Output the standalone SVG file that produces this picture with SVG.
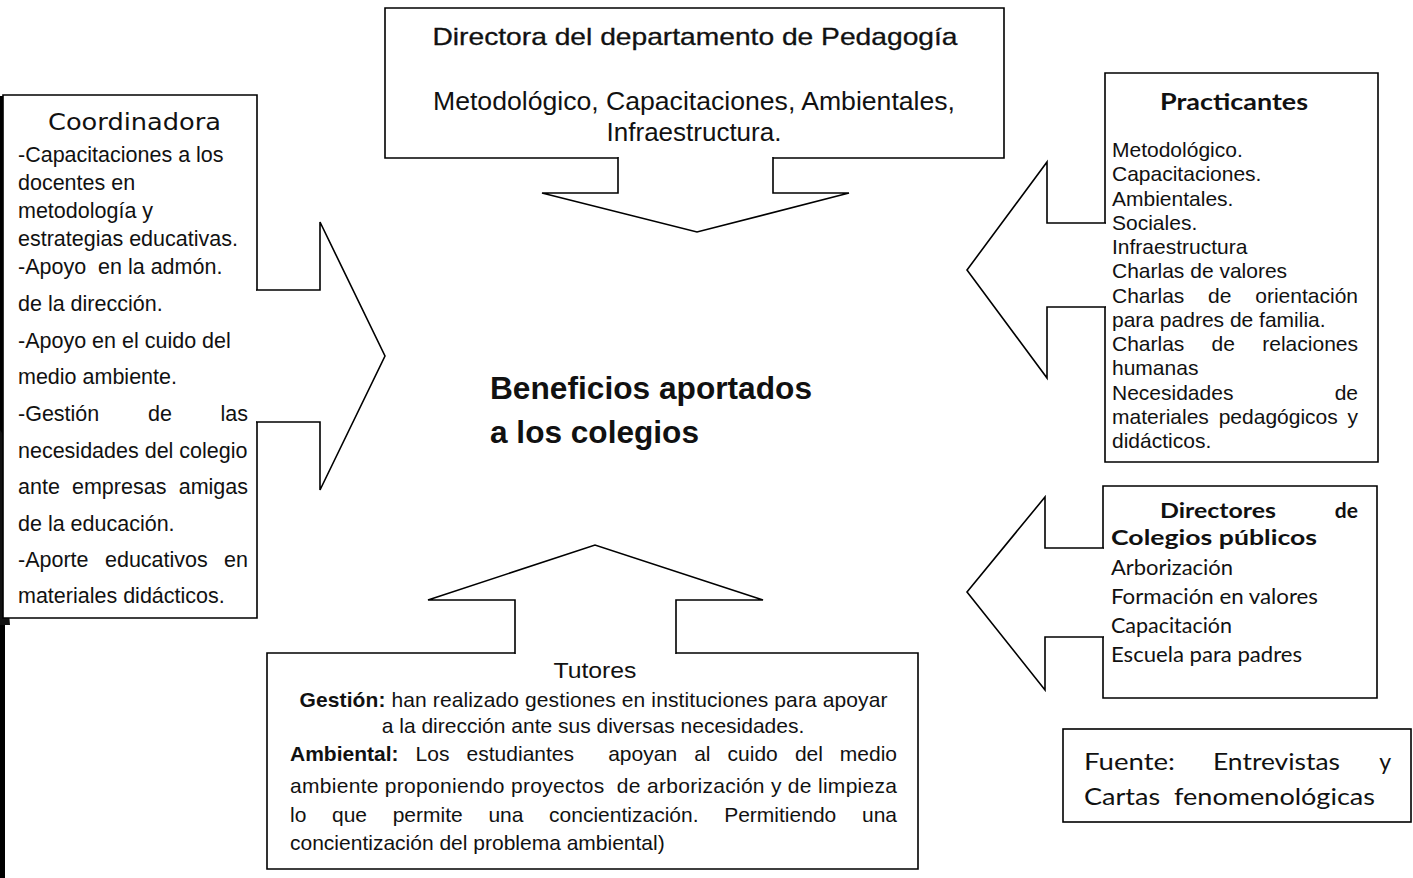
<svg xmlns="http://www.w3.org/2000/svg" width="1413" height="878" viewBox="0 0 1413 878">
<style>
.shape{fill:#fff;stroke:#000;stroke-width:1.6;stroke-linejoin:miter;stroke-linecap:square}
.ar{font-family:"Liberation Sans",Arial,sans-serif;fill:#111}
.dv{font-family:"DejaVu Sans",Verdana,sans-serif;fill:#111}
.cb{font-family:Lato,"Open Sans",sans-serif;fill:#111}
.b{font-weight:bold}
</style>
<rect width="1413" height="878" fill="#fff"/>
<g id="scan-edge">
<rect x="0" y="96" width="5" height="782" fill="#000"/>
<polygon points="0,430 7,440 9,520 8,600 10,625 0,625" fill="#111"/>
</g>
<g id="node-directora">
<path class="shape" d="M618,158 H385 V8 H1004 V158 H773"/>
<text class="ar" x="695" y="45" font-size="24" text-anchor="middle" textLength="525" lengthAdjust="spacingAndGlyphs" stroke="#111" stroke-width="0.3">Directora del departamento de Pedagogía</text>
<text class="ar" x="694" y="110" font-size="26" text-anchor="middle" textLength="522" lengthAdjust="spacingAndGlyphs">Metodológico, Capacitaciones, Ambientales,</text>
<text class="ar" x="694" y="141" font-size="26" text-anchor="middle">Infraestructura.</text>
</g>
<g id="node-coordinadora">
<path class="shape" d="M257,290 V95 H3 V618 H257 V422"/>
<text class="dv" x="134.5" y="130" font-size="23" text-anchor="middle" textLength="173" lengthAdjust="spacingAndGlyphs">Coordinadora</text>
<g class="ar" font-size="21.5">
<text x="18" y="162">-Capacitaciones a los</text>
<text x="18" y="190">docentes en</text>
<text x="18" y="218">metodología y</text>
<text x="18" y="246">estrategias educativas.</text>
<text x="18" y="274" xml:space="preserve">-Apoyo  en la admón.</text>
<text x="18" y="311">de la dirección.</text>
<text x="18" y="348">-Apoyo en el cuido del</text>
<text x="18" y="384">medio ambiente.</text>
<text y="421"><tspan x="18">-Gestión</tspan><tspan x="148">de</tspan><tspan x="248" text-anchor="end">las</tspan></text>
<text x="18" y="458">necesidades del colegio</text>
<text y="494"><tspan x="18">ante</tspan><tspan x="72">empresas</tspan><tspan x="248" text-anchor="end">amigas</tspan></text>
<text x="18" y="531">de la educación.</text>
<text y="567"><tspan x="18">-Aporte</tspan><tspan x="105">educativos</tspan><tspan x="248" text-anchor="end">en</tspan></text>
<text x="18" y="603">materiales didácticos.</text>
</g>
</g>
<g id="node-practicantes">
<path class="shape" d="M1105,223 V73 H1378 V462 H1105 V307"/>
<text class="cb b" x="1234" y="110" font-size="22" text-anchor="middle" textLength="148" lengthAdjust="spacingAndGlyphs">Practicantes</text>
<g class="ar" font-size="21">
<text x="1112" y="157">Metodológico.</text>
<text x="1112" y="181.25">Capacitaciones.</text>
<text x="1112" y="205.5">Ambientales.</text>
<text x="1112" y="229.75">Sociales.</text>
<text x="1112" y="254">Infraestructura</text>
<text x="1112" y="278.25">Charlas de valores</text>
<text y="302.5"><tspan x="1112">Charlas</tspan><tspan x="1208">de</tspan><tspan x="1358" text-anchor="end">orientación</tspan></text>
<text x="1112" y="326.75">para padres de familia.</text>
<text y="351"><tspan x="1112">Charlas</tspan><tspan x="1211.6">de</tspan><tspan x="1358" text-anchor="end">relaciones</tspan></text>
<text x="1112" y="375.25">humanas</text>
<text y="399.5"><tspan x="1112">Necesidades</tspan><tspan x="1358" text-anchor="end">de</tspan></text>
<text y="423.75"><tspan x="1112">materiales</tspan><tspan x="1218.7">pedagógicos</tspan><tspan x="1358" text-anchor="end">y</tspan></text>
<text x="1112" y="448">didácticos.</text>
</g>
</g>
<g id="node-directores">
<path class="shape" d="M1103,548 V486 H1377 V698 H1103 V637"/>
<g class="cb" font-size="21">
<text class="b" x="1160" y="518" textLength="116" lengthAdjust="spacingAndGlyphs">Directores</text>
<text class="b" x="1358" y="518" text-anchor="end">de</text>
<text class="b" x="1111" y="545" textLength="206" lengthAdjust="spacingAndGlyphs">Colegios públicos</text>
<text x="1111" y="575" textLength="122" lengthAdjust="spacingAndGlyphs">Arborización</text>
<text x="1111" y="604" textLength="207" lengthAdjust="spacingAndGlyphs">Formación en valores</text>
<text x="1111" y="633" textLength="121" lengthAdjust="spacingAndGlyphs">Capacitación</text>
<text x="1111" y="662" textLength="191" lengthAdjust="spacingAndGlyphs">Escuela para padres</text>
</g>
</g>
<g id="node-tutores">
<path class="shape" d="M515,653 H267 V869 H918 V653 H676"/>
<text class="ar" x="595" y="678" font-size="22" text-anchor="middle" textLength="83" lengthAdjust="spacingAndGlyphs">Tutores</text>
<g class="ar" font-size="21">
<text x="593.5" y="707" text-anchor="middle" textLength="588"><tspan class="b">Gestión:</tspan> han realizado gestiones en instituciones para apoyar</text>
<text x="593" y="733" text-anchor="middle">a la dirección ante sus diversas necesidades.</text>
<text y="761"><tspan x="290" class="b">Ambiental:</tspan><tspan x="415.6">Los</tspan><tspan x="466.6">estudiantes</tspan><tspan x="608.2">apoyan</tspan><tspan x="694.2">al</tspan><tspan x="727.6">cuido</tspan><tspan x="794.9">del</tspan><tspan x="897" text-anchor="end">medio</tspan></text>
<text x="290" y="793" textLength="607" xml:space="preserve">ambiente proponiendo proyectos  de arborización y de limpieza</text>
<text y="822"><tspan x="290">lo</tspan><tspan x="332">que</tspan><tspan x="392.7">permite</tspan><tspan x="488.4">una</tspan><tspan x="549.1">concientización.</tspan><tspan x="724.2">Permitiendo</tspan><tspan x="897" text-anchor="end">una</tspan></text>
<text x="290" y="850">concientización del problema ambiental)</text>
</g>
</g>
<g id="node-center">
<text class="ar b" x="490" y="399" font-size="31" textLength="322" lengthAdjust="spacingAndGlyphs">Beneficios aportados</text>
<text class="ar b" x="490" y="443" font-size="31" textLength="209" lengthAdjust="spacingAndGlyphs">a los colegios</text>
</g>
<g id="node-fuente">
<rect class="shape" x="1063" y="729" width="348" height="93"/>
<g class="cb" font-size="23">
<text x="1084" y="770" textLength="91" lengthAdjust="spacingAndGlyphs">Fuente:</text>
<text x="1213" y="770" textLength="127" lengthAdjust="spacingAndGlyphs">Entrevistas</text>
<text x="1391" y="770" text-anchor="end">y</text>
<text x="1084" y="805" textLength="291" lengthAdjust="spacingAndGlyphs" xml:space="preserve">Cartas  fenomenológicas</text>
</g>
</g>
<g id="connectors">
<path class="shape" d="M618,158 V193 H542 L697,232 L849,193 H773 V158"/>
<path class="shape" d="M257,290 H320 V222 L385,356 L320,490 V422 H257"/>
<path class="shape" d="M1105,223 H1047 V162 L967,270 L1047,378 V307 H1105"/>
<path class="shape" d="M1103,548 H1045 V497 L967,592 L1045,690 V637 H1103"/>
<path class="shape" d="M515,653 V600 H428 L595,545 L763,600 H676 V653"/>
</g>
</svg>
